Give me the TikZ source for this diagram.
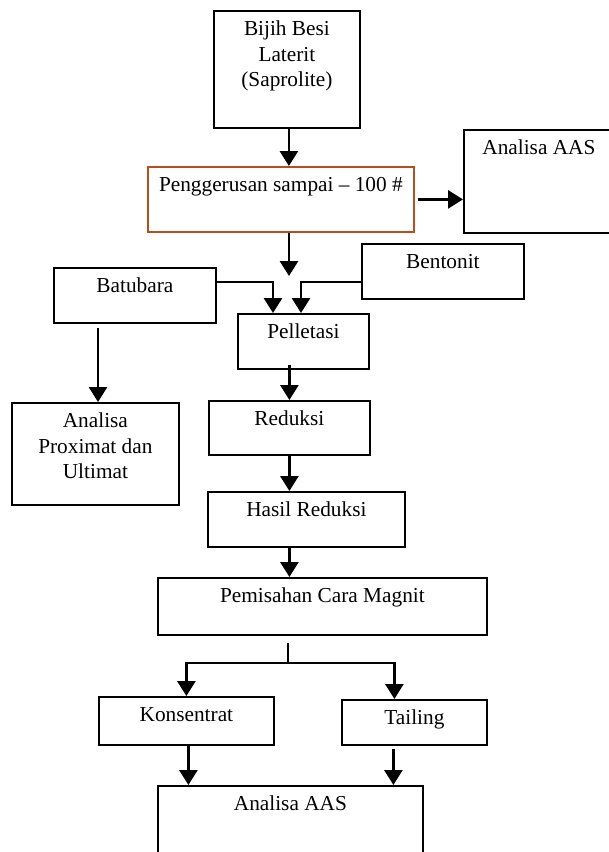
\documentclass[tikz,border=0pt]{standalone}
\usepackage{fontspec}
\setmainfont{Liberation Serif}
\usetikzlibrary{arrows.meta}
\definecolor{rust}{RGB}{184,78,28}
\newcommand{\bx}[3]{\parbox[c][#2pt][t]{#1pt}{\centering\vspace*{7pt}\strut #3}}
\begin{document}
\begin{tikzpicture}[x=1pt,y=-1pt,font=\fontsize{21.3}{25.5}\selectfont,line join=miter,
	box/.style={draw,line width=1.8pt,inner sep=0pt,anchor=north west},
	arr/.style={line width=2.8pt,-{Triangle[length=15pt,width=18pt]}}]
		\useasboundingbox (0,0) rectangle (609,852);
		\clip (0,0) rectangle (609,852);
		% boxes
		\node[box] (bijih) at (213,10) {\bx{146}{117}{Bijih Besi\\Laterit\\(Saprolite)}};
		\node[box,draw=rust] (peng) at (147,166) {\bx{266}{65}{Penggerusan sampai -- 100 \#}};
		\node[box] (aasA) at (463,129) {\bx{150}{103}{Analisa AAS}};
		\node[box] (batubara) at (53,267) {\bx{162}{55}{Batubara}};
		\node[box] (bentonit) at (361,243) {\bx{162}{55}{Bentonit}};
		\node[box] (pellet) at (237,313) {\bx{131}{55}{Pelletasi}};
		\node[box] (prox) at (11,402) {\bx{167}{102}{Analisa\\Proximat dan\\Ultimat}};
		\node[box] (reduksi) at (208,400) {\bx{161}{54}{Reduksi}};
		\node[box] (hasil) at (207,491) {\bx{197}{55}{Hasil Reduksi}};
		\node[box] (pemisahan) at (157,577) {\bx{329}{57}{Pemisahan Cara Magnit}};
		\node[box] (konsentrat) at (98,696) {\bx{175}{48}{Konsentrat}};
		\node[box] (tailing) at (341,699) {\bx{145}{45}{Tailing}};
		\node[box] (aasB) at (157,785) {\bx{265}{100}{Analisa AAS}};
		% arrows
		\coordinate (mix) at (289,276);
		\coordinate (split) at (288,663);
		\draw[arr] ([xshift=2pt]bijih.south) -- ([xshift=2pt]bijih.south |- peng.north);
		\draw[arr] ([xshift=3pt]peng.east) -- (aasA.west |- peng.east);
		\draw[arr] (peng.south -| mix) -- (mix);
		\draw[arr] (batubara.east |- 0,282) -| (pellet.north -| 273,0);
		\draw[arr] (bentonit.west |- 0,282) -| (pellet.north -| 301,0);
		\draw[arr] ([yshift=-4pt]batubara.south -| 98,0) -- (prox.north -| 98,0);
		\draw[arr] ([yshift=5pt]pellet.south -| reduksi.north) -- (reduksi.north);
		\draw[arr] (reduksi.south) -- (reduksi.south |- hasil.north);
		\draw[arr] (reduksi.south |- hasil.south) -- (reduksi.south |- pemisahan.north);
		\draw[line width=1.8pt] ([yshift=-7pt]pemisahan.south -| split) -- (split);
		\draw[arr] (split) -| (konsentrat.north);
		\draw[arr] (split) -| ([xshift=-20pt]tailing.north);
		\draw[arr] ([xshift=2pt]konsentrat.south) -- ([xshift=2pt]konsentrat.south |- aasB.north);
		\draw[arr] ([xshift=-21pt,yshift=-3pt]tailing.south) -- ([xshift=-21pt]tailing.south |- aasB.north);
\end{tikzpicture}
\end{document}
